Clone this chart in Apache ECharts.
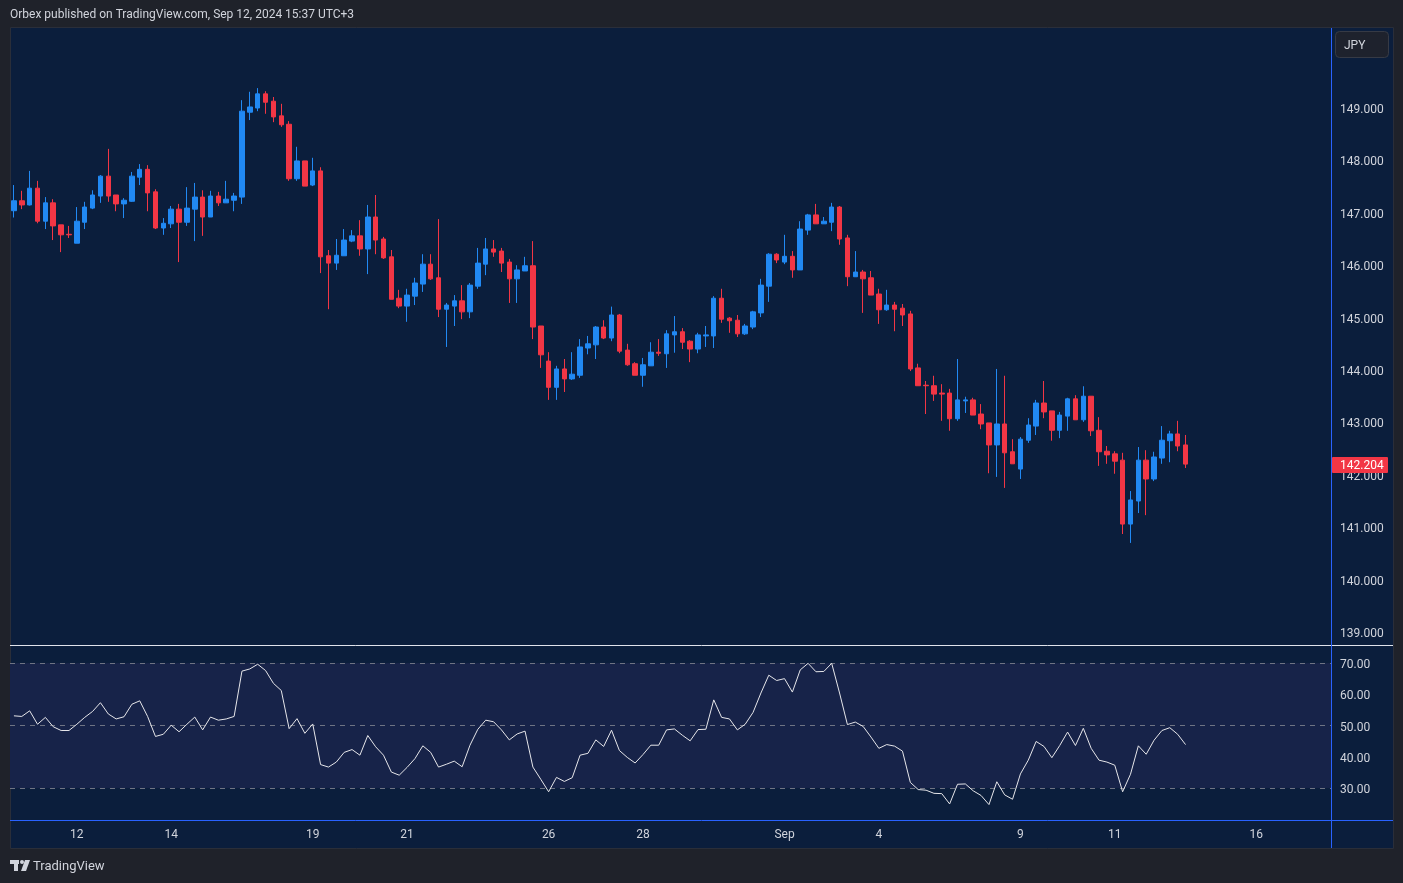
<!DOCTYPE html>
<html><head><meta charset="utf-8">
<script src="https://cdn.jsdelivr.net/npm/echarts@6/dist/echarts.min.js"></script>
<style>html,body{margin:0;padding:0;background:#1f222a;}#c{width:1403px;height:883px;}</style>
</head><body><div id="c"></div>
<script>
// ---- data (USDJPY 4h) ----
const opens = [147.04,147.23,147.15,147.47,146.84,147.19,146.77,146.59,146.42,146.82,
147.09,147.32,147.70,147.34,147.17,147.22,147.68,147.83,147.40,146.71,
146.79,147.07,146.82,147.07,147.30,146.92,147.32,147.19,147.24,147.30,
148.92,149.00,149.27,149.13,148.85,148.69,147.65,147.99,147.53,147.80,
146.18,146.04,146.18,146.46,146.56,146.31,146.92,146.50,146.16,145.37,
145.22,145.41,145.64,146.02,145.76,145.16,145.22,145.32,145.11,145.60,
146.02,146.31,146.27,146.06,145.74,145.89,145.99,144.84,144.17,143.67,
144.02,143.83,143.90,144.42,144.48,144.82,144.61,145.05,144.38,144.12,
143.90,144.08,144.34,144.31,144.67,144.73,144.55,144.40,144.65,144.65,
145.37,144.99,144.95,144.69,144.82,145.09,145.60,146.21,146.06,146.17,
145.91,146.67,146.96,146.79,146.82,147.11,146.52,145.78,145.87,145.76,
145.45,145.15,145.24,145.18,145.07,144.04,143.71,143.70,143.56,143.56,
143.07,143.41,143.43,143.16,142.99,142.57,142.97,142.44,142.11,142.66,
142.93,143.37,143.22,142.85,143.12,143.45,143.05,143.50,142.85,142.45,
142.40,142.28,141.06,141.50,142.28,141.92,142.32,142.65,142.78,142.57];
const highs = [147.53,147.42,147.80,147.61,147.30,147.26,146.77,146.75,147.11,147.21,
147.43,147.72,148.22,147.34,147.28,147.78,147.93,147.91,147.45,146.90,
147.13,147.17,147.49,147.57,147.43,147.42,147.40,147.61,147.38,149.15,
149.31,149.38,149.32,149.21,149.08,148.75,148.26,147.99,148.05,147.87,
146.29,146.50,146.69,146.67,146.86,147.15,147.34,146.54,146.29,145.53,
145.55,145.76,146.21,146.21,146.88,145.28,145.43,145.62,145.66,146.33,
146.52,146.48,146.33,146.12,146.00,146.16,146.46,144.84,144.34,144.08,
144.21,144.34,144.59,144.65,144.84,144.95,145.21,145.07,144.50,144.15,
144.23,144.53,144.59,144.76,145.03,144.80,144.57,144.71,144.84,145.41,
145.55,145.01,145.05,144.88,145.13,145.74,146.23,146.23,146.58,146.27,
146.84,146.98,147.17,146.92,147.19,147.13,146.58,146.27,145.91,145.89,
145.55,145.53,145.30,145.26,145.13,144.12,143.79,143.89,143.73,143.64,
144.21,143.49,143.47,143.35,142.99,144.02,143.89,142.68,142.72,143.08,
143.43,143.79,143.22,143.20,143.47,143.52,143.69,143.50,143.10,142.55,
142.45,142.42,141.69,142.53,142.47,142.44,142.93,142.84,143.03,142.76];
const lows = [146.91,147.07,147.14,146.80,146.69,146.48,146.25,146.52,146.42,146.69,
147.07,147.19,147.21,147.03,146.90,147.21,147.53,147.03,146.69,146.58,
146.71,146.06,146.75,146.46,146.56,146.92,147.13,147.19,147.03,147.17,
148.77,148.94,148.89,148.73,148.64,147.61,147.61,147.51,147.51,145.85,
145.16,145.91,146.18,146.44,146.18,145.83,146.21,146.12,145.35,145.18,
144.92,145.24,145.49,145.72,145.01,144.44,144.84,144.97,144.99,145.55,
145.81,146.16,145.87,145.28,145.28,145.89,144.59,144.04,143.43,143.43,
143.58,143.81,143.85,144.30,144.21,144.59,144.55,144.32,144.08,143.90,
143.68,144.08,144.27,144.04,144.33,144.40,144.15,144.32,144.44,144.42,
144.90,144.71,144.63,144.67,144.78,145.01,145.30,146.04,146.02,145.76,
145.91,146.58,146.79,146.79,146.65,146.39,145.60,145.78,145.09,145.43,
144.88,145.13,144.74,144.84,143.98,143.70,143.16,143.41,143.03,142.84,
143.03,143.18,143.14,142.87,142.03,141.96,141.75,142.21,141.92,142.61,
142.76,143.08,142.65,142.70,142.84,143.05,143.01,142.74,142.17,142.21,
142.02,140.87,140.70,141.27,141.23,141.88,142.21,142.24,142.45,142.13];
const closes = [147.23,147.15,147.47,146.84,147.19,146.75,146.58,146.58,146.84,147.11,
147.34,147.70,147.32,147.17,147.24,147.70,147.83,147.38,146.71,146.80,
147.07,146.82,147.09,147.30,146.92,147.32,147.19,147.26,147.32,148.94,
149.02,149.27,149.11,148.83,148.68,147.65,147.99,147.51,147.80,146.16,
146.04,146.19,146.48,146.56,146.31,146.92,146.48,146.14,145.35,145.22,
145.43,145.66,146.02,145.74,145.16,145.24,145.32,145.11,145.62,146.04,
146.31,146.25,146.04,145.74,145.91,145.99,144.82,144.29,143.67,144.02,
143.83,143.92,144.44,144.50,144.82,144.61,145.05,144.36,144.10,143.90,
144.10,144.34,144.32,144.69,144.73,144.53,144.40,144.67,144.67,145.37,
144.97,144.94,144.69,144.84,145.11,145.62,146.21,146.10,146.17,145.91,
146.69,146.96,146.79,146.84,147.11,146.50,145.78,145.87,145.74,145.43,
145.15,145.24,145.16,145.05,144.02,143.70,143.70,143.54,143.54,143.07,
143.43,143.43,143.14,142.97,142.57,142.97,142.42,142.21,142.68,142.95,
143.37,143.20,142.85,143.14,143.45,143.05,143.50,142.84,142.44,142.38,
142.26,141.06,141.52,142.28,141.92,142.34,142.66,142.78,142.55,142.204];
const rsiValues = [53.1,52.9,54.7,50.4,52.6,49.6,48.4,48.4,50.4,52.6,
54.5,57.3,53.7,52.1,52.8,56.8,57.9,52.9,46.5,47.2,
50.1,48.0,50.4,52.7,48.6,52.7,51.7,52.1,52.9,67.4,
68.1,69.6,67.6,63.5,61.2,49.0,52.2,47.5,50.5,37.5,
36.7,38.3,41.4,42.3,40.5,46.8,43.2,40.5,35.1,34.1,
36.6,39.4,43.5,41.4,36.7,37.6,38.6,36.8,43.7,48.8,
51.7,51.2,48.6,45.4,47.3,48.2,36.7,32.8,28.8,33.4,
32.1,33.3,40.5,41.1,45.4,43.3,48.5,42.0,39.8,38.0,
40.7,43.7,43.7,48.6,48.9,46.9,45.1,48.7,48.8,58.2,
52.6,52.1,48.6,50.4,54.2,60.4,66.1,64.4,65.0,60.7,
67.8,69.9,67.2,67.3,69.9,60.4,50.3,51.1,49.7,46.3,
42.7,43.9,43.4,41.8,31.8,29.5,29.3,28.3,28.2,24.9,
31.2,31.3,29.1,27.6,24.7,32.0,27.8,26.4,34.5,38.9,
44.9,43.3,39.7,43.6,47.9,43.6,49.1,42.7,38.9,38.3,
37.3,28.8,34.4,43.5,40.8,45.3,48.4,49.3,47.2,43.9];
const tickIndex = [8,20,38,50,68,80,98,110,128,140,158];
const tickLabels = ['12','14','19','21','26','28','Sep','4','9','11','16'];
const priceTicks = [139,140,141,142,143,144,145,146,147,148,149];
const rsiTicks = [30,40,50,60,70];
const rsiLevels = [30,50,70];
const lastPrice = 142.204;
const totalSlots = 168;
const titleText = 'Orbex published on TradingView.com, Sep 12, 2024 15:37 UTC+3';
const currency = 'JPY';

// ---- chart ----
const UP = '#2189f3', DOWN = '#f23645', TXT = '#d1d4dc', FONT = 'Roboto, "Noto Sans", sans-serif';
const cats = Array.from({length: totalSlots}, (_, i) => String(i));
const candles = opens.map((o, i) => [o, closes[i], lows[i], highs[i]]);
const chart = echarts.init(document.getElementById('c'), null, {renderer: 'canvas'});
const tickFmt = v => { const k = tickIndex.indexOf(+v); return k >= 0 ? tickLabels[k] : ''; };
const yLabel = (fmt, vals) => ({customValues: vals, formatter: fmt, color: TXT, fontSize: 12, margin: 9,
  verticalAlign: 'top', lineHeight: 4, fontFamily: FONT});

chart.setOption({
  animation: false,
  backgroundColor: '#1f222a',
  textStyle: {fontFamily: FONT},
  grid: [
    {left: 10, right: 72, top: 28, height: 617},
    {left: 10, right: 72, top: 645, height: 175}
  ],
  xAxis: [
    {type: 'category', gridIndex: 0, data: cats, boundaryGap: true,
     axisLine: {show: false}, axisTick: {show: false}, axisLabel: {show: false}, splitLine: {show: false}},
    {type: 'category', gridIndex: 1, data: cats, boundaryGap: true,
     axisLine: {show: false}, axisTick: {show: false}, splitLine: {show: false},
     axisLabel: {interval: (i) => tickIndex.includes(i), formatter: tickFmt, color: TXT, fontSize: 12, margin: 9, fontFamily: FONT}}
  ],
  yAxis: [
    {type: 'value', gridIndex: 0, position: 'right', min: 138.752, max: 150.527, scale: true,
     splitLine: {show: false}, axisLine: {show: false}, axisTick: {show: false},
     axisLabel: yLabel(v => v.toFixed(3), priceTicks)},
    {type: 'value', gridIndex: 1, position: 'right', min: 19.76, max: 75.76,
     splitLine: {show: false}, axisLine: {show: false}, axisTick: {show: false},
     axisLabel: yLabel(v => v.toFixed(2), rsiTicks)}
  ],
  series: [
    {type: 'candlestick', xAxisIndex: 0, yAxisIndex: 0, data: candles, barWidth: 5,
     itemStyle: {color: UP, color0: DOWN, borderColor: UP, borderColor0: DOWN, borderWidth: 1}},
    {type: 'line', xAxisIndex: 1, yAxisIndex: 1, data: rsiValues, symbol: 'none', z: 5,
     lineStyle: {color: '#e6e6ea', width: 1},
     markArea: {silent: true, itemStyle: {color: '#172349'}, data: [[{yAxis: 30}, {yAxis: 70}]]},
     markLine: {silent: true, symbol: ['none', 'none'], label: {show: false},
       lineStyle: {color: '#6f7484', type: [5, 5], width: 1},
       data: rsiLevels.map(v => ({yAxis: v}))}}
  ]
});

const py = chart.convertToPixel({yAxisIndex: 0}, lastPrice);
chart.setOption({
  graphic: {elements: [
    {type: 'rect', z: -10, shape: {x: 10.5, y: 27.5, width: 1383, height: 821}, style: {fill: '#0b1e3c', stroke: '#2a2e39', lineWidth: 1}},
    {type: 'text', z: 100, left: 10, top: 9, style: {text: titleText, fill: TXT, font: '12px ' + FONT}},
    {type: 'line', z: 100, shape: {x1: 10, y1: 645.5, x2: 1393, y2: 645.5}, style: {stroke: '#e0e3eb', lineWidth: 1}},
    {type: 'line', z: 100, shape: {x1: 10, y1: 820.5, x2: 1393, y2: 820.5}, style: {stroke: '#2962ff', lineWidth: 1}},
    {type: 'line', z: 100, shape: {x1: 1331.5, y1: 28, x2: 1331.5, y2: 848}, style: {stroke: '#2962ff', lineWidth: 1}},
    {type: 'rect', z: 100, shape: {x: 1335.5, y: 31.5, width: 53, height: 26, r: 4}, style: {fill: '#1e222d', stroke: '#363a45', lineWidth: 1}},
    {type: 'text', z: 101, x: 1344, y: 46, style: {text: currency, fill: TXT, font: '12px ' + FONT, textVerticalAlign: 'middle'}},
    {type: 'rect', z: 100, shape: {x: 1332, y: Math.round(py) - 7, width: 56, height: 16, r: 1}, style: {fill: DOWN}},
    {type: 'text', z: 101, x: 1340, y: Math.round(py) + 2, style: {text: lastPrice.toFixed(3), fill: '#ffffff', font: '12px ' + FONT, textVerticalAlign: 'middle'}},
    // TradingView logo + wordmark
    {type: 'rect', z: 100, shape: {x: 10, y: 860, width: 9, height: 4}, style: {fill: '#d1d4dc'}},
    {type: 'rect', z: 100, shape: {x: 14, y: 860, width: 4, height: 11}, style: {fill: '#d1d4dc'}},
    {type: 'circle', z: 100, shape: {cx: 22, cy: 862, r: 2}, style: {fill: '#d1d4dc'}},
    {type: 'polygon', z: 100, shape: {points: [[25, 860], [30, 860], [26, 871], [21, 871]]}, style: {fill: '#d1d4dc'}},
    {type: 'text', z: 100, x: 33, y: 867, style: {text: 'TradingView', fill: '#d1d4dc', font: '13px ' + FONT, textVerticalAlign: 'middle'}}
  ]}
});
</script></body></html>
